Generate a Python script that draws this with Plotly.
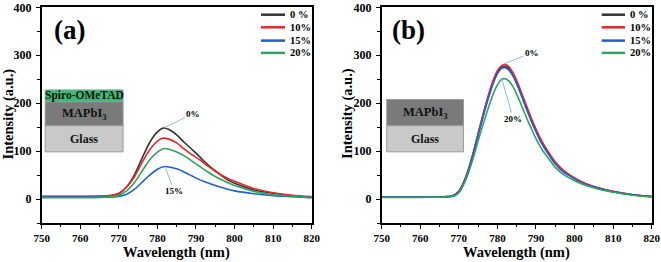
import plotly.graph_objects as go

# ---------------- data ----------------
series_names = ["0 %", "10%", "15%", "20%"]
series_colors = ["#333333", "#e8262a", "#1f5fd6", "#2ea35c"]

wl_a = [750, 755, 760, 765, 768, 770, 772, 774, 776, 778, 780, 781.5, 783, 785, 787,
        789, 791, 793, 795, 798, 800, 805, 810, 815, 820]
a_0 = [5, 5, 5, 5.5, 7, 11, 25, 50, 85, 118, 140, 148, 145, 134, 118,
       103, 88, 72, 59, 41, 33, 19, 12, 7, 4]
a_10 = [5.5, 5.5, 5.5, 6, 8, 12, 25, 46, 76, 103, 121, 127, 125, 117, 104,
        92, 82, 69, 58, 44, 37, 22, 13, 8, 5]
a_15 = [4, 4, 4, 4, 4.5, 5.5, 10, 20, 35, 50, 62, 67.5, 67, 63, 56,
        48, 40, 34, 28, 21, 17, 11, 7, 5, 3]
a_20 = [3, 3, 3, 3.5, 5, 8, 17, 34, 58, 82, 98, 105, 104, 98, 90,
        79, 68, 57, 47, 35, 28, 16, 9, 6, 3]

wl_b = [750, 755, 760, 765, 767, 768, 769, 770, 771, 772, 773, 774, 775, 776, 777, 778,
        779, 780, 781, 782, 783, 784, 785, 786, 787, 788, 789, 790, 791, 792, 793, 795,
        797, 800, 803, 806, 810, 815, 820]
b_0 = [4, 4, 4, 4.5, 5, 6, 9, 16, 30, 50, 75, 104, 135, 166, 196, 223,
       247, 265, 275, 277, 272, 260, 243, 223, 202, 181, 161, 143, 126, 111, 98, 75,
       59, 43, 31, 23, 15.5, 9, 5]
b_10 = [4, 4, 4, 4.5, 5, 6, 9, 16, 30, 50, 75, 105, 137, 168, 198, 226,
        250, 268, 278, 281, 276, 264, 247, 227, 206, 185, 165, 146, 129, 114, 101, 77,
        61, 44, 32, 24, 16, 9, 5]
b_15 = [4, 4, 4, 4.5, 5, 6, 9, 15, 29, 48, 73, 102, 133, 163, 192, 219,
        243, 261, 272, 274, 269, 257, 240, 220, 199, 178, 158, 140, 123, 109, 96, 73,
        57, 42, 30, 23, 15, 9, 5]
b_20 = [3.5, 3.5, 3.5, 4, 4.5, 5, 7, 13, 26, 44, 67, 93, 121, 148, 174, 199,
        221, 238, 249, 251, 246, 235, 219, 200, 180, 161, 143, 126, 111, 98, 87, 66,
        52, 38, 28, 21, 14, 8, 4.5]

x_ticks = [750, 760, 770, 780, 790, 800, 810, 820]
y_ticks = [0, 100, 200, 300, 400]
panel_labels = ["(a)", "(b)"]
x_title = "Wavelength (nm)"
y_title = "Intensity (a.u.)"

FONT = "Times New Roman, Liberation Serif, serif"
W, H = 661, 262

fig = go.Figure()

panels = [
    ("x", "y", wl_a, [a_0, a_10, a_15, a_20]),
    ("x2", "y2", wl_b, [b_0, b_10, b_15, b_20]),
]
for xa, ya, wl, sers in panels:
    for name, col, vals in zip(series_names, series_colors, sers):
        fig.add_trace(go.Scatter(x=wl, y=vals, xaxis=xa, yaxis=ya, mode="lines",
                                 name=name, showlegend=False,
                                 line=dict(color=col, width=1.6, shape="spline", smoothing=0.7)))

def px2paper_x(p):
    return p / W

def px2paper_y(p):
    return 1 - p / H

xdom_a = [px2paper_x(41.7), px2paper_x(311.7)]
xdom_b = [px2paper_x(381.7), px2paper_x(651.7)]
ydom = [px2paper_y(223), px2paper_y(7.3)]

axis_common = dict(showline=True, mirror=True, linecolor="black", linewidth=1.5,
                   ticks="outside", ticklen=4, tickwidth=1.2, tickcolor="black",
                   showgrid=False, zeroline=False, automargin=False)
xaxis_common = dict(axis_common, range=[750, 820], tickvals=x_ticks,
                    tickfont=dict(family=FONT, size=11, color="black", weight="bold"),
                    minor=dict(ticks="outside", ticklen=2.5, tickwidth=1, dtick=5, tick0=750, tickcolor="black"))
yaxis_common = dict(axis_common, range=[-50, 400], tickvals=y_ticks, ticklabelstandoff=2,
                    tickfont=dict(family=FONT, size=12, color="black", weight="bold"),
                    minor=dict(ticks="outside", ticklen=2.5, tickwidth=1, dtick=50, tick0=0, tickcolor="black"))

fig.update_layout(
    template="none",
    width=W, height=H,
    margin=dict(l=0, r=0, t=0, b=0),
    paper_bgcolor="white", plot_bgcolor="white",
    showlegend=False,
    font=dict(family=FONT),
    xaxis=dict(xaxis_common, domain=xdom_a, anchor="y"),
    yaxis=dict(yaxis_common, domain=ydom, anchor="x"),
    xaxis2=dict(xaxis_common, domain=xdom_b, anchor="y2"),
    yaxis2=dict(yaxis_common, domain=ydom, anchor="x2"),
)

shapes = []
annotations = []

# axis titles
title_font = dict(family=FONT, size=14.5, color="black", weight="bold")
for cx in [176.7, 516.7]:
    annotations.append(dict(text=x_title, xref="paper", yref="paper",
                            x=px2paper_x(cx), y=px2paper_y(252.5), xanchor="center", yanchor="middle",
                            showarrow=False, font=title_font))
for cx in [8.5, 348]:
    annotations.append(dict(text=y_title, xref="paper", yref="paper", textangle=-90,
                            x=px2paper_x(cx), y=px2paper_y(114), xanchor="center", yanchor="middle",
                            showarrow=False, font=title_font))

# panel labels
for lab, cx in zip(panel_labels, [69, 408]):
    annotations.append(dict(text=lab, xref="paper", yref="paper",
                            x=px2paper_x(cx), y=px2paper_y(30), xanchor="center", yanchor="middle",
                            showarrow=False,
                            font=dict(family=FONT, size=27, color="black", weight="bold")))

# legends (drawn manually)
legend_rows = [14.7, 27.3, 40.6, 52.9]
for (lx0, lx1, tx) in [(261, 285, 288), (601.7, 625, 628)]:
    for name, col, ry in zip(series_names, series_colors, legend_rows):
        shapes.append(dict(type="line", xref="paper", yref="paper",
                           x0=px2paper_x(lx0), x1=px2paper_x(lx1),
                           y0=px2paper_y(ry), y1=px2paper_y(ry),
                           line=dict(color=col, width=2.5)))
        annotations.append(dict(text=name, xref="paper", yref="paper",
                                x=px2paper_x(tx), y=px2paper_y(ry), xanchor="left", yanchor="middle",
                                showarrow=False,
                                font=dict(family=FONT, size=10.5, color="black", weight="bold")))

# inset layer stacks
def layer(xref, yref, x0, x1, y0, y1, fill, text, fsize=12):
    shapes.append(dict(type="rect", xref=xref, yref=yref, x0=x0, x1=x1, y0=y0, y1=y1,
                       fillcolor=fill, line=dict(color="#9a9a9a", width=1), layer="above"))
    annotations.append(dict(text=text, xref=xref, yref=yref, x=(x0 + x1) / 2, y=(y0 + y1) / 2,
                            xanchor="center", yanchor="middle", showarrow=False,
                            font=dict(family=FONT, size=fsize, color="#111111", weight="bold")))

layer("x", "y", 750.9, 771.1, 202.7, 227.7, "#3dba73", "Spiro-OMeTAD", 11.5)
layer("x", "y", 750.9, 771.1, 152.7, 202.7, "#7a7a7a", "MAPbI<sub>3</sub>", 12.5)
layer("x", "y", 750.9, 771.1, 98.5, 152.7, "#c9c9c9", "Glass", 12)
layer("x2", "y2", 751.3, 771.2, 152.7, 207.7, "#7a7a7a", "MAPbI<sub>3</sub>", 12.5)
layer("x2", "y2", 751.3, 771.2, 98.5, 152.7, "#c9c9c9", "Glass", 12)

# peak callouts
def callout(xr, yr, px_, py_, tx, ty, text):
    annotations.append(dict(text=text, xref=xr, yref=yr, x=px_, y=py_,
                            ax=tx, ay=ty, axref=xr, ayref=yr,
                            showarrow=True, arrowhead=0, arrowwidth=1, arrowcolor="#8fb8e8",
                            font=dict(family=FONT, size=9, color="black", weight="bold")))

callout("x", "y", 782.0, 150, 789.3, 178, "0%")
callout("x", "y", 782.0, 68, 784.3, 16, "15%")
callout("x2", "y2", 782.0, 283, 788.9, 305, "0%")
callout("x2", "y2", 781.1, 252, 784.1, 167, "20%")

fig.update_layout(shapes=shapes, annotations=annotations)
fig.write_html("out.html", config={"displayModeBar": False},
               post_script="document.body.style.margin='0';document.body.style.padding='0';")
